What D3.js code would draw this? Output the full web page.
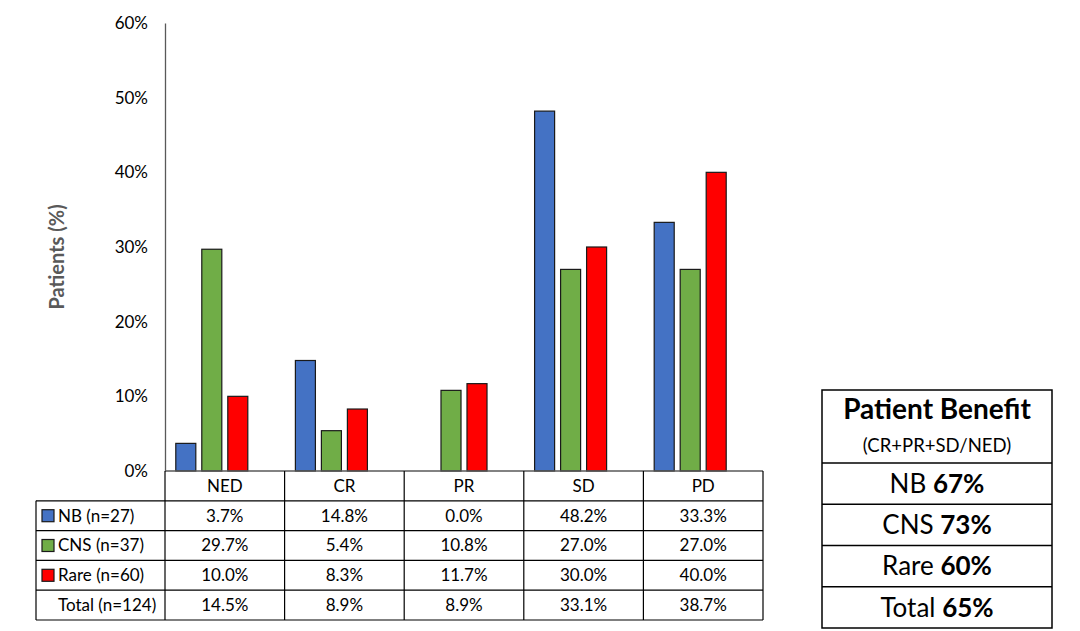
<!DOCTYPE html>
<html>
<head>
<meta charset="utf-8">
<script src="https://cdn.jsdelivr.net/npm/d3@7"></script>
<style>
  html, body { margin: 0; padding: 0; background: #fff; }
  svg { display: block; font-family: Lato, "Open Sans", sans-serif; }
</style>
</head>
<body>
<svg id="chart" width="1080" height="631"></svg>
<script>
const categories = ["NED", "CR", "PR", "SD", "PD"];
const seriesNames = ["NB (n=27)", "CNS (n=37)", "Rare (n=60)", "Total (n=124)"];
const nbValues = [3.7, 14.8, 0.0, 48.2, 33.3];
const cnsValues = [29.7, 5.4, 10.8, 27.0, 27.0];
const rareValues = [10.0, 8.3, 11.7, 30.0, 40.0];
const totalValues = [14.5, 8.9, 8.9, 33.1, 38.7];
const seriesColors = ["#4472C4", "#70AD47", "#FF0000", null];
const yTicks = [0, 10, 20, 30, 40, 50, 60];
const benefitLabels = ["NB", "CNS", "Rare", "Total"];
const benefitValues = ["67%", "73%", "60%", "65%"];

const seriesValues = [nbValues, cnsValues, rareValues, totalValues];

const svg = d3.select("#chart");

const x0 = d3.scaleBand().domain(categories).range([165, 763]).padding(0);
const x1 = d3.scaleBand().domain(d3.range(4)).range([0, x0.bandwidth()])
  .paddingInner(0.23).paddingOuter(0.415);
const y = d3.scaleLinear().domain([0, 60]).range([471, 23]);

// y axis labels
const yAxis = d3.axisLeft(y).tickValues(yTicks).tickFormat(d => d + "%").tickSize(0).tickPadding(17);
const gy = svg.append("g").attr("transform", "translate(165,0)").call(yAxis);
gy.select(".domain").attr("stroke", "#595959").attr("stroke-width", 1.3);
gy.selectAll("text").attr("font-size", 17).attr("fill", "#000")
  .attr("font-family", "Lato, 'Open Sans', sans-serif");

svg.append("text")
  .attr("transform", "translate(64,257) rotate(-90)")
  .attr("text-anchor", "middle")
  .attr("font-size", 20).attr("font-weight", "bold").attr("fill", "#595959")
  .text("Patients (%)");

// bars (Total series is not drawn as bars)
seriesValues.forEach((vals, si) => {
  if (!seriesColors[si]) return;
  svg.append("g").selectAll("rect")
    .data(categories.map((c, i) => ({ c, v: vals[i] })))
    .join("rect")
    .attr("x", d => x0(d.c) + x1(si))
    .attr("width", x1.bandwidth())
    .attr("y", d => y(d.v))
    .attr("height", d => y(0) - y(d.v))
    .attr("fill", seriesColors[si])
    .attr("stroke", d => d.v > 0 ? "#1a1a1a" : "none")
    .attr("stroke-width", 1.2);
});

// data table
const rowH = 29.8;
const fs = 17;
const headerTop = y(0), headerBot = headerTop + rowH;
const tableLeft = 36, tableRight = x0.range()[1];
const tg = svg.append("g").attr("stroke", "#000").attr("stroke-width", 1.2);

// header row
tg.append("line").attr("x1", x0.range()[0]).attr("x2", tableRight).attr("y1", headerTop).attr("y2", headerTop).attr("stroke", "#595959").attr("stroke-width", 1.3);
svg.append("g").selectAll("text").data(categories).join("text")
  .attr("x", d => x0(d) + x0.bandwidth() / 2).attr("y", (headerTop + headerBot) / 2)
  .attr("dy", "0.35em").attr("text-anchor", "middle").attr("font-size", fs).text(d => d);

// horizontal lines for rows
for (let r = 0; r <= seriesNames.length; r++) {
  const yy = headerBot + r * rowH;
  tg.append("line").attr("x1", tableLeft).attr("x2", tableRight).attr("y1", yy).attr("y2", yy);
}
// vertical lines
const tableBottom = headerBot + seriesNames.length * rowH;
tg.append("line").attr("x1", tableLeft).attr("x2", tableLeft).attr("y1", headerBot).attr("y2", tableBottom);
categories.forEach(c => {
  tg.append("line").attr("x1", x0(c)).attr("x2", x0(c)).attr("y1", headerTop).attr("y2", tableBottom);
});
tg.append("line").attr("x1", tableRight).attr("x2", tableRight).attr("y1", headerTop).attr("y2", tableBottom);

seriesNames.forEach((name, si) => {
  const cy = headerBot + si * rowH + rowH / 2;
  if (seriesColors[si]) {
    svg.append("rect").attr("x", 42).attr("y", cy - 6).attr("width", 12).attr("height", 12)
      .attr("fill", seriesColors[si]).attr("stroke", "#1a1a1a").attr("stroke-width", 1.2);
  }
  svg.append("text").attr("x", 58).attr("y", cy).attr("dy", "0.35em")
    .attr("font-size", fs).text(name);
  svg.append("g").selectAll("text").data(seriesValues[si]).join("text")
    .attr("x", (d, i) => x0(categories[i]) + x0.bandwidth() / 2).attr("y", cy)
    .attr("dy", "0.35em").attr("text-anchor", "middle").attr("font-size", fs)
    .text(d => d.toFixed(1) + "%");
});

// Patient Benefit box
const bx = 822, bw = 230, btop = 390, titleBot = 463, bRowH = 41.25;
const bg = svg.append("g");
bg.append("rect").attr("x", bx).attr("y", btop).attr("width", bw)
  .attr("height", titleBot - btop + bRowH * benefitLabels.length)
  .attr("fill", "none").attr("stroke", "#000").attr("stroke-width", 1.5);
bg.append("text").attr("x", bx + bw / 2).attr("y", 419).attr("text-anchor", "middle")
  .attr("font-size", 28).attr("font-weight", "bold").text("Patient Benefit");
bg.append("text").attr("x", bx + bw / 2).attr("y", 452).attr("text-anchor", "middle")
  .attr("font-size", 18.5).text("(CR+PR+SD/NED)");
benefitLabels.forEach((lab, i) => {
  const top = titleBot + i * bRowH;
  bg.append("line").attr("x1", bx).attr("x2", bx + bw).attr("y1", top).attr("y2", top)
    .attr("stroke", "#000").attr("stroke-width", 1.5);
  const t = bg.append("text").attr("x", bx + bw / 2).attr("y", top + bRowH / 2)
    .attr("dy", "0.36em").attr("text-anchor", "middle").attr("font-size", 26);
  t.append("tspan").text(lab + " ");
  t.append("tspan").attr("font-weight", "bold").text(benefitValues[i]);
});
</script>
</body>
</html>
